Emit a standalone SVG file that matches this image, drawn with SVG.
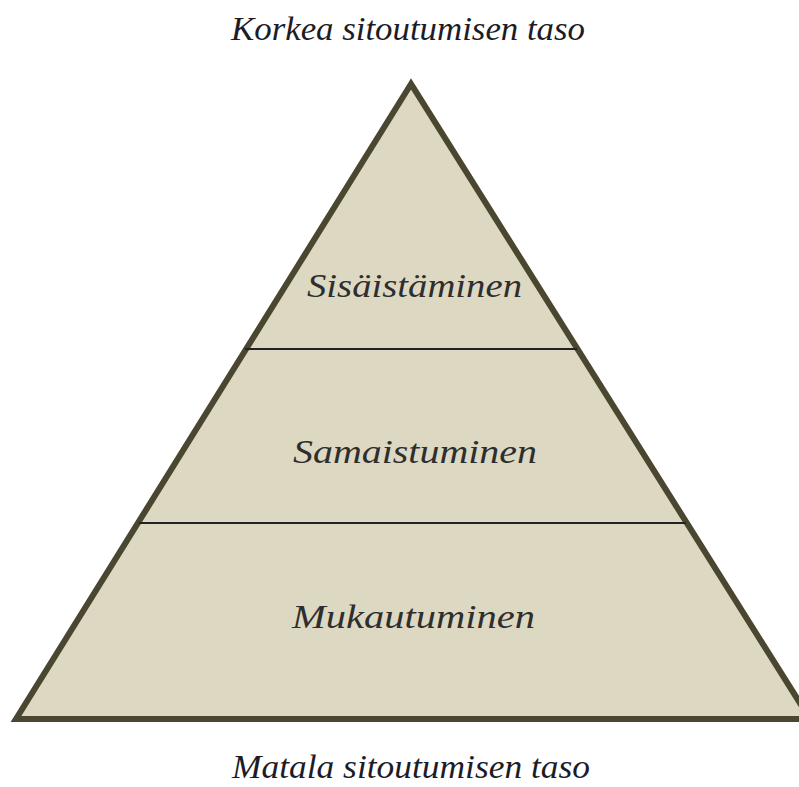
<svg xmlns="http://www.w3.org/2000/svg" width="799" height="787" viewBox="0 0 799 787">
  <style>
    .lbl { font-family: "Liberation Serif", "DejaVu Serif", serif; font-style: italic; font-size: 34px; text-anchor: start; }
    .outer { fill: #1c1c28; }
    .inner { fill: #2e2e2e; }
    .divider { stroke: #222; stroke-width: 2; fill: none; }
  </style>
  <rect width="799" height="787" fill="#ffffff"/>
  <g id="pyramid">
    <polygon points="411,84 16,719 810,719" fill="#ddd8c2" stroke="#4b4630" stroke-width="6" stroke-linejoin="miter"/>
  </g>
  <g id="connectors">
    <line class="divider" x1="245" y1="349" x2="577" y2="349"/>
    <line class="divider" x1="139" y1="523" x2="686" y2="523"/>
  </g>
  <g id="top-label">
    <text class="lbl outer" x="231" y="40" textLength="354" lengthAdjust="spacingAndGlyphs">Korkea sitoutumisen taso</text>
  </g>
  <g id="tier-sisaistaminen">
    <text class="lbl inner" x="307" y="297" textLength="215" lengthAdjust="spacingAndGlyphs">Sisäistäminen</text>
  </g>
  <g id="tier-samaistuminen">
    <text class="lbl inner" x="293" y="463" textLength="244" lengthAdjust="spacingAndGlyphs">Samaistuminen</text>
  </g>
  <g id="tier-mukautuminen">
    <text class="lbl inner" x="292" y="628" textLength="243" lengthAdjust="spacingAndGlyphs">Mukautuminen</text>
  </g>
  <g id="bottom-label">
    <text class="lbl outer" x="232" y="778" textLength="358" lengthAdjust="spacingAndGlyphs">Matala sitoutumisen taso</text>
  </g>
</svg>
